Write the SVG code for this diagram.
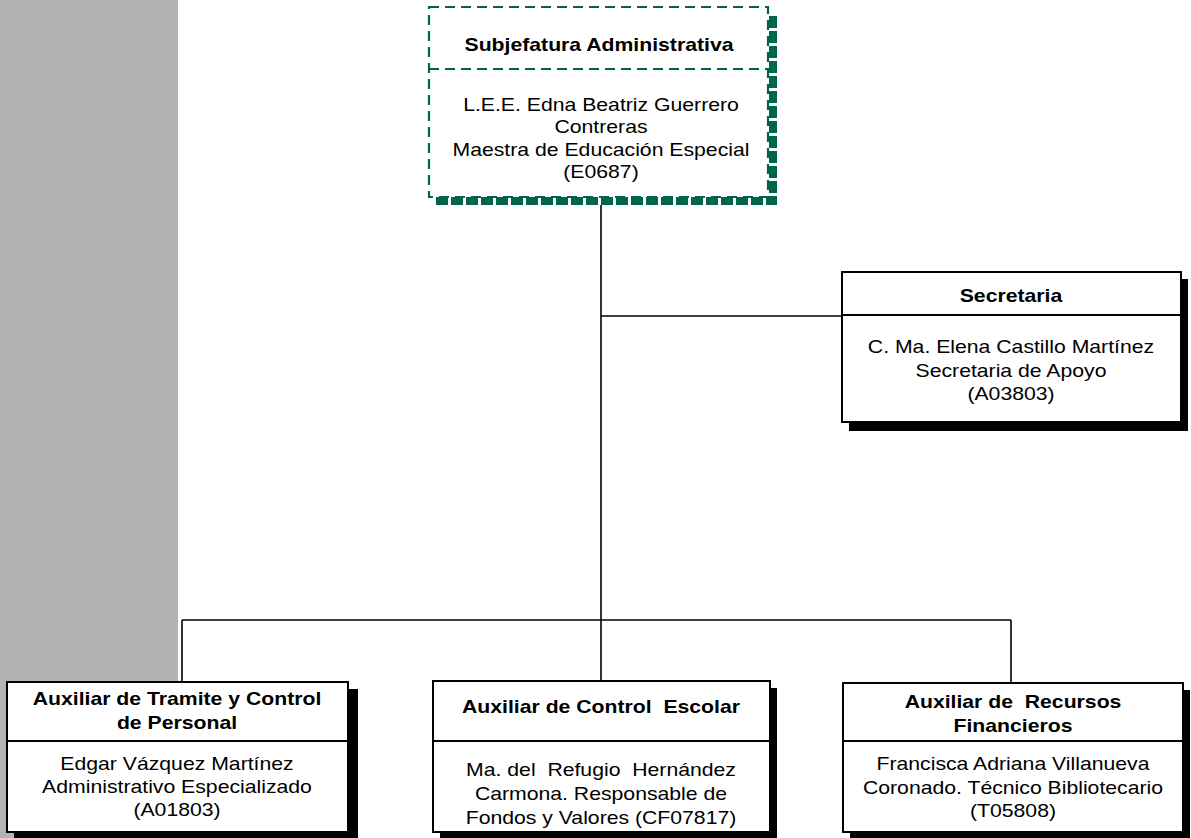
<svg xmlns="http://www.w3.org/2000/svg" width="1191" height="838" viewBox="0 0 1191 838">
<defs>
<style>
.box{fill:#fff;stroke:#000;stroke-width:2}
.sh{fill:#000}
.div{stroke:#000;stroke-width:2}
.gbox{fill:#fff;stroke:#00664a;stroke-width:2.2;stroke-dasharray:10 6}
.gsh{fill:none;stroke:#00664a;stroke-width:8;stroke-dasharray:12 3}
.con{stroke:#000;stroke-width:1.6;fill:none}
text{font-family:"Liberation Sans",Arial,sans-serif;font-size:18.6px;fill:#000;text-anchor:middle;white-space:pre}
.t{font-weight:bold}
</style>
</defs>
<rect x="0" y="0" width="178" height="838" fill="#b3b3b3"/>
<g id="connectors">
<line class="con" x1="601" y1="205" x2="601" y2="682"/>
<line class="con" x1="601" y1="316" x2="842" y2="316"/>
<line class="con" x1="182" y1="620" x2="1011" y2="620"/>
<line class="con" x1="182" y1="620" x2="182" y2="682"/>
<line class="con" x1="1011" y1="620" x2="1011" y2="683"/>
</g>
<g id="node-subjefatura">
<path class="gsh" d="M436 201 H773 V14"/>
<rect class="gbox" x="429" y="7" width="339" height="190"/>
<line x1="429" y1="69" x2="768" y2="69" stroke="#00664a" stroke-width="2.2" stroke-dasharray="10 6"/>
<g transform="translate(599 0) scale(1.14 1)"><text class="t" x="0" y="51">Subjefatura Administrativa</text></g>
<g transform="translate(601 0) scale(1.14 1)">
<text x="0" y="111">L.E.E. Edna Beatriz Guerrero</text>
<text x="0" y="133">Contreras</text>
<text x="0" y="156">Maestra de Educación Especial</text>
<text x="0" y="178">(E0687)</text>
</g>
</g>
<g id="node-secretaria">
<rect class="sh" x="849" y="279" width="339" height="152"/>
<rect class="box" x="842" y="272" width="339" height="150"/>
<line class="div" x1="842" y1="315" x2="1181" y2="315"/>
<g transform="translate(1011 0) scale(1.14 1)">
<text class="t" x="0" y="302">Secretaria</text>
<text x="0" y="353">C. Ma. Elena Castillo Martínez</text>
<text x="0" y="377">Secretaria de Apoyo</text>
<text x="0" y="400">(A03803)</text>
</g>
</g>
<g id="node-tramite">
<rect class="sh" x="14" y="689" width="344" height="152"/>
<rect class="box" x="7" y="682" width="341" height="150"/>
<line class="div" x1="7" y1="741" x2="348" y2="741"/>
<g transform="translate(177 0) scale(1.14 1)">
<text class="t" x="0" y="705">Auxiliar de Tramite y Control</text>
<text class="t" x="0" y="729">de Personal</text>
<text x="0" y="770">Edgar Vázquez Martínez</text>
<text x="0" y="793">Administrativo Especializado</text>
<text x="0" y="816">(A01803)</text>
</g>
</g>
<g id="node-escolar">
<rect class="sh" x="440" y="688" width="337" height="152"/>
<rect class="box" x="433" y="681" width="337" height="151"/>
<line class="div" x1="433" y1="741" x2="770" y2="741"/>
<g transform="translate(601 0) scale(1.14 1)">
<text class="t" x="0" y="713">Auxiliar de Control  Escolar</text>
<text x="0" y="776">Ma. del  Refugio  Hernández</text>
<text x="0" y="800">Carmona. Responsable de</text>
<text x="0" y="824">Fondos y Valores (CF07817)</text>
</g>
</g>
<g id="node-financieros">
<rect class="sh" x="850" y="690" width="340" height="152"/>
<rect class="box" x="843" y="683" width="340" height="149"/>
<line class="div" x1="843" y1="741" x2="1183" y2="741"/>
<g transform="translate(1013 0) scale(1.14 1)">
<text class="t" x="0" y="708">Auxiliar de  Recursos</text>
<text class="t" x="0" y="732">Financieros</text>
<text x="0" y="770">Francisca Adriana Villanueva</text>
<text x="0" y="794">Coronado. Técnico Bibliotecario</text>
<text x="0" y="817">(T05808)</text>
</g>
</g>
</svg>
